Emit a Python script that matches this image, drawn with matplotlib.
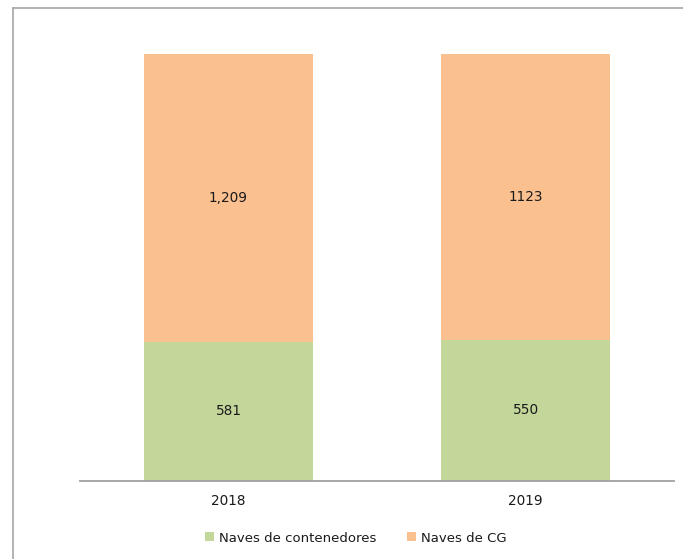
import matplotlib
matplotlib.use("Agg")
import matplotlib.pyplot as plt
from matplotlib.lines import Line2D
from matplotlib.patches import Patch

years = ["2018", "2019"]
contenedores = [581, 550]
cg = [1209, 1123]
labels_cont = ["581", "550"]
labels_cg = ["1,209", "1123"]

green = "#C4D79B"
orange = "#FAC090"

fig = plt.figure(figsize=(6.83, 5.59), dpi=100)
W, H = 683, 559

# outer chart border (left and top visible)
fig.add_artist(Line2D([13 / W, 13 / W], [0, 1 - 8 / H], transform=fig.transFigure,
                      color="#a6a6a6", lw=1.2))
fig.add_artist(Line2D([13 / W, 1], [1 - 8 / H, 1 - 8 / H], transform=fig.transFigure,
                      color="#a6a6a6", lw=1.2))

ax = fig.add_axes([80 / W, 1 - 480.5 / H, 594 / W, (480.5 - 54) / H])

totals = [a + b for a, b in zip(contenedores, cg)]
pc = [a / t for a, t in zip(contenedores, totals)]
pg = [b / t for b, t in zip(cg, totals)]
x = list(range(len(years)))
bw = 0.57
ax.bar(x, pc, width=bw, color=green, zorder=2)
ax.bar(x, pg, width=bw, bottom=pc, color=orange, zorder=2)

font = dict(family="DejaVu Sans", fontsize=9.8, color="#1a1a1a")
for i in x:
    ax.text(i, pc[i] / 2, labels_cont[i], ha="center", va="center", **font)
    ax.text(i, pc[i] + pg[i] / 2, labels_cg[i], ha="center", va="center", **font)

ax.set_xlim(-0.5, 1.5)
ax.set_ylim(0, 1)
ax.set_yticks([])
ax.set_xticks(x)
ax.set_xticklabels(years, **font)
ax.tick_params(axis="x", length=0, pad=10)
for s in ["top", "right", "left"]:
    ax.spines[s].set_visible(False)
ax.spines["bottom"].set_color("#a0a0a0")
ax.spines["bottom"].set_linewidth(1.3)

handles = [Patch(facecolor=green, label="Naves de contenedores"),
           Patch(facecolor=orange, label="Naves de CG")]
fig.legend(handles=handles, loc="center", bbox_to_anchor=(356 / W, 1 - 538 / H),
           ncol=2, frameon=False, prop=dict(family="DejaVu Sans", size=9.5),
           handlelength=0.68, handleheight=0.68, handletextpad=0.38, columnspacing=2.3,
           labelcolor="#1a1a1a", borderpad=0, borderaxespad=0)

fig.savefig("out.png", dpi=100)
